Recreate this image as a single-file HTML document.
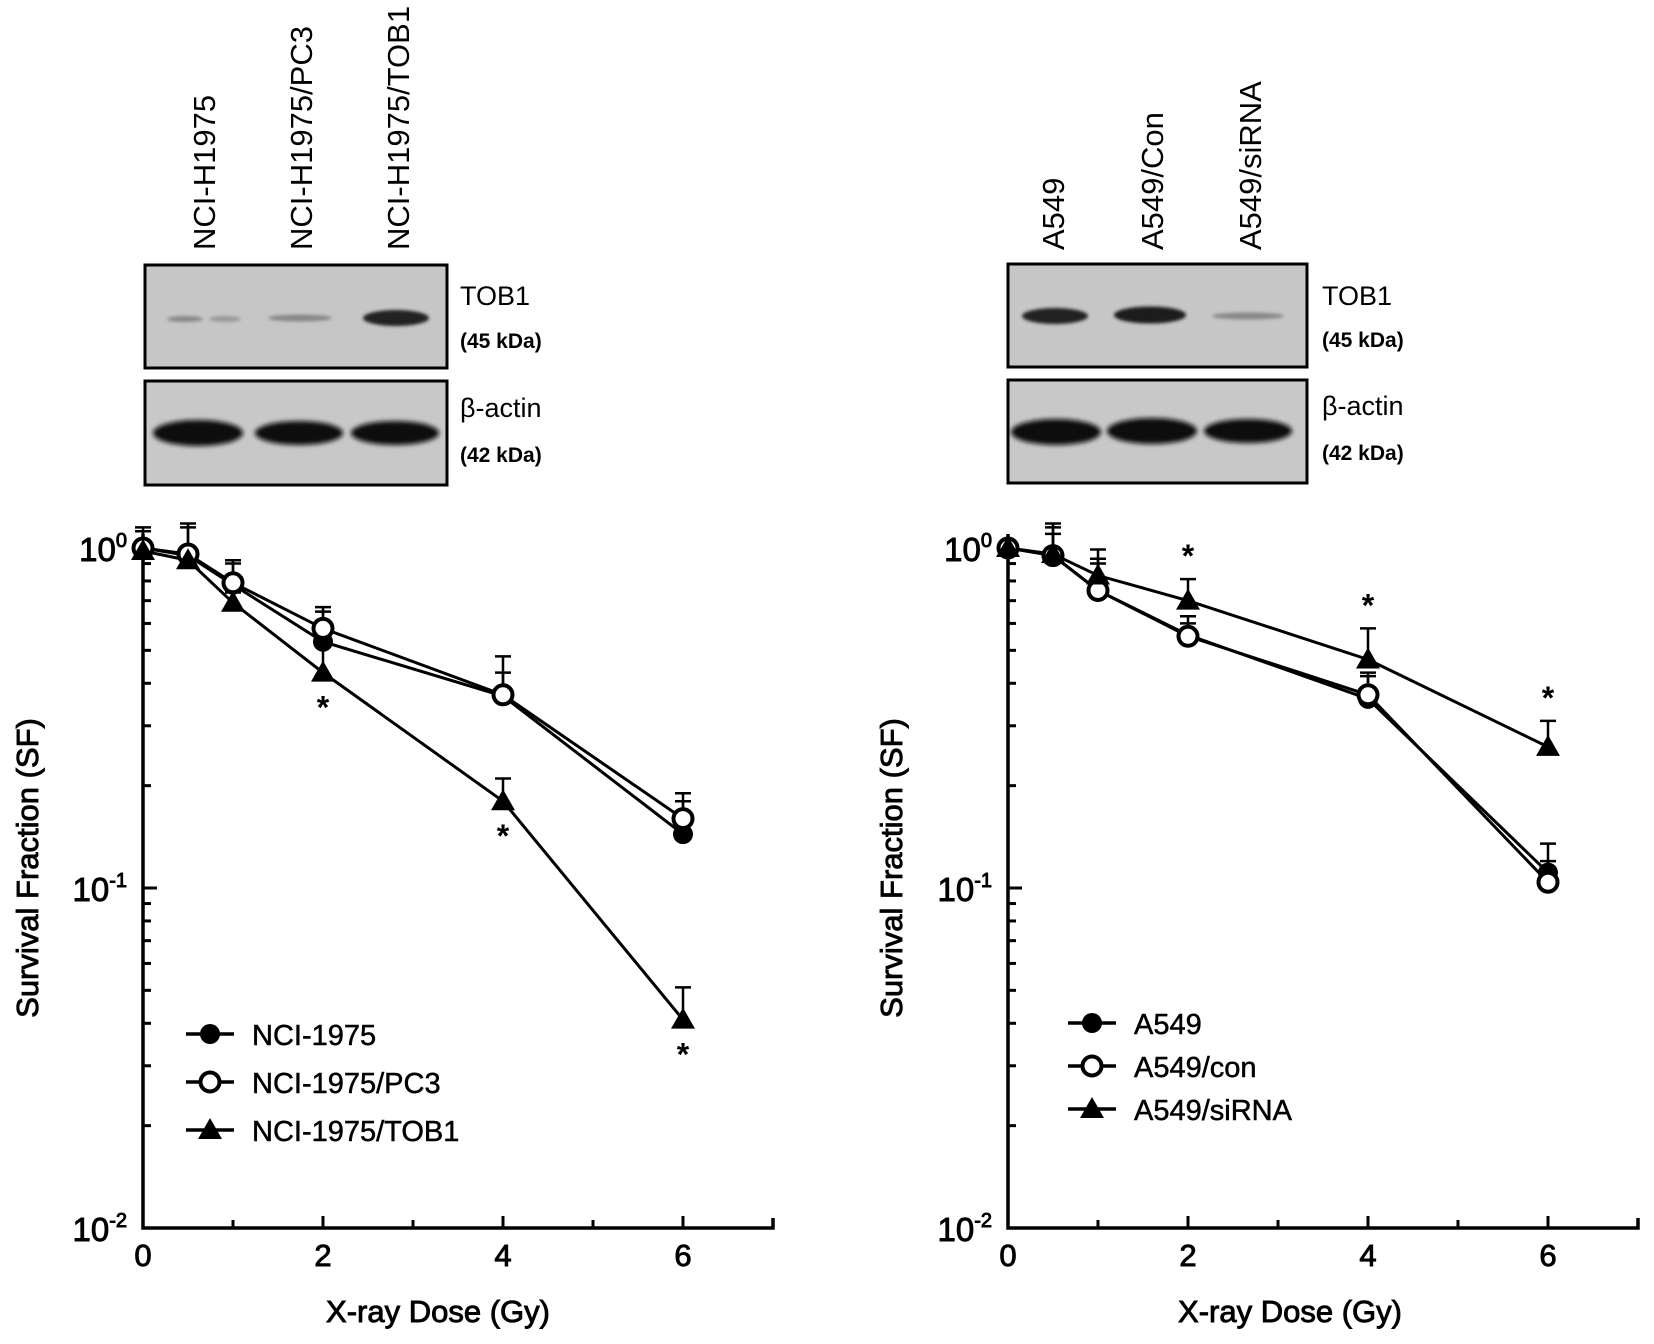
<!DOCTYPE html>
<html><head><meta charset="utf-8"><style>
html,body{margin:0;padding:0;background:#fff;}
svg{display:block;font-family:"Liberation Sans",Arial,sans-serif;}
.th{stroke:#000;stroke-width:0.9px;}
</style></head><body>
<svg id="fig" width="1654" height="1344" viewBox="0 0 1654 1344" xmlns="http://www.w3.org/2000/svg">
<defs>
<filter id="blur" x="-20%" y="-50%" width="140%" height="200%"><feGaussianBlur stdDeviation="2.5"/></filter>
<filter id="blur2" x="-20%" y="-50%" width="140%" height="200%"><feGaussianBlur stdDeviation="1.5"/></filter>
</defs>

<!-- Left blot -->
<g>
  <text transform="translate(215,250) rotate(-90)" font-size="31">NCI-H1975</text>
  <text transform="translate(312,250) rotate(-90)" font-size="31">NCI-H1975/PC3</text>
  <text transform="translate(409,250) rotate(-90)" font-size="31">NCI-H1975/TOB1</text>
  <rect x="145" y="265" width="302" height="103" fill="#c6c6c6" stroke="#000" stroke-width="3"/>
  <g filter="url(#blur2)">
    <ellipse cx="185" cy="319" rx="18" ry="3" fill="#888"/>
    <ellipse cx="225" cy="319" rx="16" ry="3" fill="#999"/>
    <ellipse cx="300" cy="318" rx="32" ry="3.5" fill="#888"/>
    <ellipse cx="396" cy="318" rx="33" ry="8" fill="#222"/>
  </g>
  <rect x="145" y="381" width="302" height="104" fill="#c8c8c8" stroke="#000" stroke-width="3"/>
  <g filter="url(#blur)">
    <ellipse cx="198" cy="433" rx="45" ry="13" fill="#111"/>
    <ellipse cx="299" cy="433" rx="44" ry="12" fill="#111"/>
    <ellipse cx="395" cy="433" rx="44" ry="12" fill="#111"/>
  </g>
  <text x="460" y="305" font-size="27">TOB1</text>
  <text x="460" y="348" font-size="21" font-weight="bold">(45  kDa)</text>
  <text x="460" y="417" font-size="27">β-actin</text>
  <text x="460" y="462" font-size="21" font-weight="bold">(42  kDa)</text>
</g>

<!-- Right blot -->
<g>
  <text transform="translate(1064,250) rotate(-90)" font-size="31">A549</text>
  <text transform="translate(1163,250) rotate(-90)" font-size="31">A549/Con</text>
  <text transform="translate(1261,250) rotate(-90)" font-size="31">A549/siRNA</text>
  <rect x="1008" y="264" width="299" height="103" fill="#c6c6c6" stroke="#000" stroke-width="3"/>
  <g filter="url(#blur2)">
    <ellipse cx="1055" cy="316" rx="33" ry="8" fill="#222"/>
    <ellipse cx="1150" cy="315" rx="36" ry="8.5" fill="#1a1a1a"/>
    <ellipse cx="1248" cy="316" rx="36" ry="3.5" fill="#888"/>
  </g>
  <rect x="1008" y="380" width="299" height="103" fill="#c8c8c8" stroke="#000" stroke-width="3"/>
  <g filter="url(#blur)">
    <ellipse cx="1056" cy="432" rx="45" ry="13" fill="#111"/>
    <ellipse cx="1152" cy="431" rx="45" ry="13" fill="#111"/>
    <ellipse cx="1248" cy="431" rx="44" ry="12" fill="#111"/>
  </g>
  <text x="1322" y="305" font-size="27">TOB1</text>
  <text x="1322" y="347" font-size="21" font-weight="bold">(45  kDa)</text>
  <text x="1322" y="415" font-size="27">β-actin</text>
  <text x="1322" y="460" font-size="21" font-weight="bold">(42  kDa)</text>
</g>

<g id="left-chart"></g>
<g id="right-chart"></g>
</svg>
<script>
// Shared x doses
const doses = [0, 0.5, 1, 2, 4, 6];
const xTicks = [0, 2, 4, 6];
const yDecades = [0, -1, -2];

// Left chart data
const leftNames = ["NCI-1975", "NCI-1975/PC3", "NCI-1975/TOB1"];
const leftParental = [1.0, 0.95, 0.78, 0.53, 0.367, 0.144];
const leftPC3 = [1.0, 0.96, 0.79, 0.58, 0.37, 0.16];
const leftTOB1 = [0.98, 0.92, 0.69, 0.43, 0.18, 0.041];
const leftParentalErr = [1.15, 1.18, 0.92, 0.67, 0.43, 0.19];
const leftPC3Err = [1.12, 1.15, 0.90, 0.65, 0.48, 0.18];
const leftTOB1Err = [1.05, 1.0, 0.74, 0.52, 0.21, 0.051];
const leftStars = [false, false, false, true, true, true];

// Right chart data
const rightNames = ["A549", "A549/con", "A549/siRNA"];
const rightParental = [1.0, 0.95, 0.75, 0.555, 0.36, 0.111];
const rightCon = [1.0, 0.95, 0.75, 0.55, 0.37, 0.104];
const rightSi = [1.0, 0.96, 0.83, 0.70, 0.47, 0.26];
const rightParentalErr = [1.05, 1.18, 0.93, 0.63, 0.43, 0.135];
const rightConErr = [1.05, 1.15, 0.90, 0.60, 0.42, 0.12];
const rightSiErr = [1.05, 1.1, 0.99, 0.81, 0.58, 0.31];
const rightStars = [false, false, false, true, true, true];

const NS = "http://www.w3.org/2000/svg";
function mk(parent, tag, attrs, text) {
  const e = document.createElementNS(NS, tag);
  for (const k in attrs) e.setAttribute(k, attrs[k]);
  if (text !== undefined) e.textContent = text;
  parent.appendChild(e);
  return e;
}

function drawChart(gid, ox, series, errs, names, stars, starBelow, legendX, legendY, titleX, ytitleX) {
  const g = document.getElementById(gid);
  const top = 548, dec = 340, bottom = top + 2 * dec, unit = 90;
  const xs = d => ox + d * unit;
  const ys = v => top - Math.log10(v) * dec;

  const ax = mk(g, 'path', {d: `M${ox},${top - 14} L${ox},${bottom} L${ox + 7 * unit},${bottom} L${ox + 7 * unit},${bottom - 10}`, fill: 'none', stroke: '#000', 'stroke-width': 3.5});
  
  
  for (let i = 1; i < 7; i++) {
    const t = mk(g, 'line', {x1: xs(i), x2: xs(i), y1: bottom, y2: bottom - (i % 2 ? 8 : 12), stroke: '#000', 'stroke-width': 3});
    
    
  }
  xTicks.forEach(v => {
    const t = mk(g, 'text', {x: xs(v), y: bottom + 38, 'font-size': 31, 'text-anchor': 'middle', class: 'th'}, String(v));
    
    
  });
  for (let d = 0; d > -2; d--) {
    for (let m = 2; m <= 9; m++) {
      const y = ys(m * Math.pow(10, d - 1));
      const t = mk(g, 'line', {x1: ox, x2: ox + 8, y1: y, y2: y, stroke: '#000', 'stroke-width': 3});
      
      
    }
    const y = ys(Math.pow(10, d - 1));
    const t = mk(g, 'line', {x1: ox, x2: ox + 14, y1: y, y2: y, stroke: '#000', 'stroke-width': 3});
    
    
  }
  yDecades.forEach(d => {
    const t = mk(g, 'text', {x: ox - 16, y: ys(Math.pow(10, d)) + 13, 'font-size': 33, 'text-anchor': 'end', class: 'th'});
    
    
    mk(t, 'tspan', {}, '10');
    mk(t, 'tspan', {'font-size': 20, dy: -14}, d === 0 ? '0' : String(d));
  });
  const yt = mk(g, 'text', {transform: `translate(${ytitleX},868) rotate(-90)`, 'font-size': 31, 'text-anchor': 'middle', class: 'th'}, 'Survival Fraction (SF)');
  
  
  const xt = mk(g, 'text', {x: titleX, y: 1322, 'font-size': 31, 'text-anchor': 'middle', class: 'th'}, 'X-ray Dose (Gy)');
  
  

  const markers = ['filled-circle', 'open-circle', 'triangle'];
  function marker(parent, type, x, y) {
    if (type === 'filled-circle') return mk(parent, 'circle', {cx: x, cy: y, r: 10, fill: '#000'});
    if (type === 'open-circle') return mk(parent, 'circle', {cx: x, cy: y, r: 9.5, fill: '#fff', stroke: '#000', 'stroke-width': 4});
    return mk(parent, 'path', {d: `M${x},${y - 12} L${x + 12},${y + 9} L${x - 12},${y + 9} Z`, fill: '#000'});
  }
  series.forEach((s, si) => {
    const sg = mk(g, 'g', {});
    
    
    errs[si].forEach((e, i) => {
      const x = xs(doses[i]);
      const eb = mk(sg, 'path', {d: `M${x},${ys(s[i])} L${x},${ys(e)} M${x - 8},${ys(e)} L${x + 8},${ys(e)}`, stroke: '#000', 'stroke-width': 2.5, fill: 'none'});
      
      
    });
    const ln = mk(sg, 'polyline', {points: s.map((v, i) => xs(doses[i]) + ',' + ys(v)).join(' '), fill: 'none', stroke: '#000', 'stroke-width': 3});
    
    
  });
  series.forEach((s, si) => {
    s.forEach((v, i) => {
      const m = marker(g, markers[si], xs(doses[i]), ys(v));
      
      
    });
  });
  stars.forEach((st, i) => {
    if (!st) return;
    const y = starBelow ? ys(series[2][i]) + 46 : ys(errs[2][i]) - 12;
    const t = mk(g, 'text', {x: xs(doses[i]), y: y, 'font-size': 32, 'font-weight': 'bold', 'text-anchor': 'middle'}, '*');
    
    
  });
  names.forEach((n, i) => {
    const lg = mk(g, 'g', {});
    
    
    const y = legendY + i * (legendY > 1030 ? 48 : 43);
    mk(lg, 'line', {x1: legendX, x2: legendX + 48, y1: y, y2: y, stroke: '#000', 'stroke-width': 3.5});
    marker(lg, markers[i], legendX + 24, y);
    mk(lg, 'text', {x: legendX + 66, y: y + 11, 'font-size': 29, class: 'th', style: 'stroke-width:0.5px'}, n);
  });
}

drawChart('left-chart', 143, [leftParental, leftPC3, leftTOB1], [leftParentalErr, leftPC3Err, leftTOB1Err], leftNames, leftStars, true, 186, 1034, 438, 38);
drawChart('right-chart', 1008, [rightParental, rightCon, rightSi], [rightParentalErr, rightConErr, rightSiErr], rightNames, rightStars, false, 1068, 1023, 1290, 902);
</script>
</body></html>
